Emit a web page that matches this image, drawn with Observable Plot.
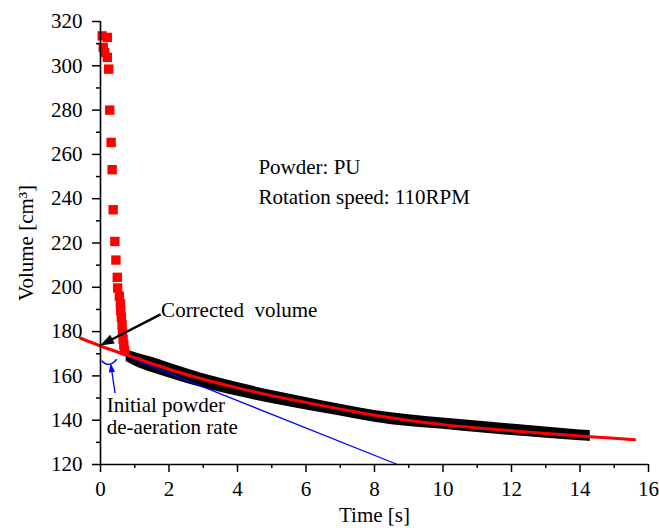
<!DOCTYPE html>
<html><head><meta charset="utf-8">
<script src="https://cdn.jsdelivr.net/npm/d3@7"></script>
<script src="https://cdn.jsdelivr.net/npm/@observablehq/plot@0.6"></script>
<style>html,body{margin:0;padding:0;background:#fff}</style>
</head><body><div id="chart"></div>
<script>
// Tick values
const xMajorTicks = [0, 2, 4, 6, 8, 10, 12, 14, 16];
const xMinorTicks = [1, 3, 5, 7, 9, 11, 13, 15];
const yMajorTicks = [120, 140, 160, 180, 200, 220, 240, 260, 280, 300, 320];
const yMinorTicks = [130, 150, 170, 190, 210, 230, 250, 270, 290, 310];

// Raw measured volume (red squares), early compaction
const rawTime = [0.05, 0.2, 0.08, 0.12, 0.2, 0.24, 0.27, 0.31, 0.34, 0.37, 0.42, 0.45, 0.49, 0.5, 0.55, 0.58, 0.59, 0.61, 0.63, 0.64, 0.66, 0.68, 0.7];
const rawVolume = [313.5, 312.8, 308.3, 306, 303.8, 298.5, 280, 265.4, 253.1, 235, 220.7, 212.3, 204.5, 199.7, 196, 192.5, 189.5, 186.5, 183, 179.5, 176.5, 174, 171.5];

// Dense black measurement band (upper / lower envelope)
const bandTime  = [0.75, 1, 1.5, 2, 3, 4, 5, 6, 7, 8, 9, 10, 11, 12, 13, 14, 14.3];
const bandUpper = [171.8, 170.6, 168.4, 165.8, 161, 157, 153.4, 150.3, 147.2, 144.4, 142.5, 141, 139.6, 138.3, 136.9, 135.6, 135.3];
const bandLower = [166.5, 164.5, 161.5, 159, 154.5, 150.8, 147.5, 144.6, 141.9, 139.1, 137.1, 135.9, 134.4, 133.1, 131.9, 130.7, 130.4];

// Fitted curve (red line)
const fitTime   = [-0.58, 0, 1, 2, 3, 4, 5, 6, 7, 8, 9, 10, 11, 12, 13, 14, 15, 15.6];
const fitVolume = [177, 173.5, 168.2, 163, 158.5, 154.6, 151.1, 148, 145, 142.2, 139.9, 138, 136.5, 135.2, 134, 132.9, 131.8, 131.2];

// Initial tangent (blue line)
const tangentTime = [0, 8.67];
const tangentVolume = [173.5, 120];

// Annotation texts and anchors
const labelTexts = ["Powder: PU", "Rotation speed: 110RPM", "Corrected\u00a0 volume", "Initial powder", "de-aeration rate"];
const labelTime = [4.61, 4.61, 1.77, 0.18, 0.18];
const labelVolume = [254, 240.8, 189.5, 146.7, 136.7];

// Arrows: tail -> head
const arrowTailTime = [1.77, 0.44];
const arrowTailVolume = [187.6, 152];
const arrowHeadTime = [0.0, 0.31];
const arrowHeadVolume = [173.5, 165.5];
const arrowColors = ["black", "blue"];
const arrowWidths = [2.5, 1.3];
const arrowHeadSizes = [14, 9];

// Angle arc (start, control, end)
const arcTime = [0.05, 0.26, 0.49];
const arcVolume = [166.6, 163.0, 167.3];

const raw = rawTime.map((t, i) => ({t, v: rawVolume[i]}));
const band = bandTime.map((t, i) => ({t, hi: bandUpper[i], lo: bandLower[i]}));
const fit = fitTime.map((t, i) => ({t, v: fitVolume[i]}));
const tangent = tangentTime.map((t, i) => ({t, v: tangentVolume[i]}));
const labels = labelTexts.map((s, i) => ({s, t: labelTime[i], v: labelVolume[i]}));

function annotations(index, scales) {
  const X = scales.x, Y = scales.y;
  const g = d3.create("svg:g");
  arrowTailTime.forEach((_, i) => {
    const x1 = X(arrowTailTime[i]), y1 = Y(arrowTailVolume[i]);
    const x2 = X(arrowHeadTime[i]), y2 = Y(arrowHeadVolume[i]);
    const ang = Math.atan2(y2 - y1, x2 - x1);
    const L = arrowHeadSizes[i], W = L * 0.7;
    const bx = x2 - L * Math.cos(ang), by = y2 - L * Math.sin(ang);
    g.append("line").attr("x1", x1).attr("y1", y1).attr("x2", bx + 2 * Math.cos(ang)).attr("y2", by + 2 * Math.sin(ang))
      .attr("stroke", arrowColors[i]).attr("stroke-width", arrowWidths[i]);
    const px = -Math.sin(ang) * W / 2, py = Math.cos(ang) * W / 2;
    g.append("path").attr("d", `M${x2},${y2}L${bx + px},${by + py}L${bx - px},${by - py}Z`).attr("fill", arrowColors[i]);
  });
  g.append("path")
    .attr("d", `M${X(arcTime[0])},${Y(arcVolume[0])}Q${X(arcTime[1])},${Y(arcVolume[1])} ${X(arcTime[2])},${Y(arcVolume[2])}`)
    .attr("fill", "none").attr("stroke", "blue").attr("stroke-width", 1.4);
  return g.node();
}

const chart = Plot.plot({
  width: 659, height: 528,
  marginLeft: 100, marginRight: 11, marginTop: 21, marginBottom: 64,
  style: {fontFamily: "'Liberation Serif', 'Times New Roman', serif", fontSize: "21px", background: "#fff", color: "#000", overflow: "visible"},
  x: {domain: [0, 16]},
  y: {domain: [120, 320]},
  marks: [
    Plot.areaY(band, {x: "t", y1: "lo", y2: "hi", fill: "black", curve: "monotone-x"}),
    Plot.line(tangent, {x: "t", y: "v", stroke: "blue", strokeWidth: 1.3}),
    Plot.line(fit, {x: "t", y: "v", stroke: "red", strokeWidth: 3, curve: "monotone-x"}),
    Plot.dot(raw, {x: "t", y: "v", symbol: "square", fill: "red", r: 5.3}),
    Plot.ruleX([0], {stroke: "black", strokeWidth: 1.6}),
    Plot.ruleY([120], {stroke: "black", strokeWidth: 1.6}),
    Plot.axisX({ticks: xMajorTicks, tickSize: 8, tickPadding: 9, tickFormat: d => String(d), strokeWidth: 1.5,
      label: "Time [s]", labelAnchor: "center", labelArrow: "none", labelOffset: 57}),
    Plot.axisX({ticks: xMinorTicks, tickSize: 4, tickFormat: () => "", strokeWidth: 1.5, label: null}),
    Plot.axisY({ticks: yMajorTicks, tickSize: 8, tickPadding: 10, tickFormat: d => String(d), strokeWidth: 1.5,
      label: "Volume [cm³]", labelAnchor: "center", labelArrow: "none", labelOffset: 82}),
    Plot.axisY({ticks: yMinorTicks, tickSize: 4, tickFormat: () => "", strokeWidth: 1.5, label: null}),
    Plot.text(labels, {x: "t", y: "v", text: "s", textAnchor: "start", fontSize: 21, fill: "black"}),
    annotations
  ]
});
document.getElementById("chart").appendChild(chart);
</script>
</body></html>
